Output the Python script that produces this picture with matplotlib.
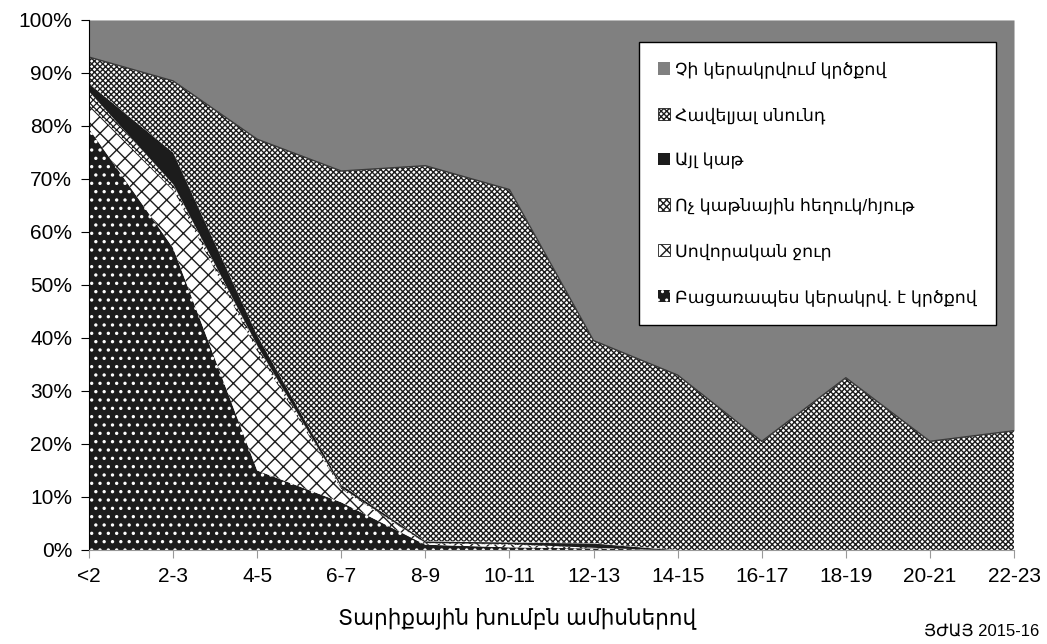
import numpy as np
import matplotlib
matplotlib.use("Agg")
import matplotlib.pyplot as plt
from matplotlib.patches import Patch

plt.rcParams['font.family'] = ['Liberation Sans', 'DejaVu Sans']

groups = ['<2', '2-3', '4-5', '6-7', '8-9', '10-11', '12-13', '14-15',
          '16-17', '18-19', '20-21', '22-23']

# percent of children, bottom layer first
excl = [79.5, 57, 15, 9, 1, 0.5, 0.3, 0, 0, 0, 0, 0]
water = [4.5, 11, 22.5, 2.5, 0.3, 0.5, 0.2, 0, 0, 0, 0, 0]
nonmilk = [2.5, 1, 1, 0.3, 0.1, 0.2, 0, 0, 0, 0, 0, 0]
othermilk = [1.5, 6, 2, 0.5, 0.3, 0.3, 0.8, 0, 0, 0, 0, 0]
compfood = [5, 13.5, 37, 59.2, 70.8, 66.5, 38.2, 33, 20.5, 32.5, 20.5, 22.5]
notbf = [7, 11.5, 22.5, 28.5, 27.5, 32, 60.5, 67, 79.5, 67.5, 79.5, 77.5]

names = ['Բացառապես կերակրվ. է կրծքով', 'Սովորական ջուր',
         'Ոչ կաթնային հեղուկ/հյութ', 'Այլ կաթ', 'Հավելյալ սնունդ',
         'Չի կերակրվում կրծքով']

series = [excl, water, nonmilk, othermilk, compfood, notbf]
# face, hatch colour, hatch, hatch linewidth
styles = [('#1c1c1c', 'white', '..', 1.2),
          ('white', '#1c1c1c', 'xx', 1.0),
          ('white', '#1c1c1c', 'xxxxx', 0.9),
          ('#1c1c1c', '#1c1c1c', None, 1.0),
          ('white', '#1e1e1e', 'xxxxxx', 1.0),
          ('#808080', '#808080', None, 1.0)]

fig = plt.figure(figsize=(10.47, 6.44), dpi=100)
ax = fig.add_axes([0.085, 0.146, 0.8835, 0.823])

x = np.arange(len(groups))
bottom = np.zeros(len(groups))
handles = []
for vals, (fc, hc, h, hlw), nm in zip(series, styles, names):
    top = bottom + np.array(vals)
    with plt.rc_context({'hatch.linewidth': hlw}):
        ax.fill_between(x, bottom, top, facecolor=fc, edgecolor=hc,
                        hatch=h, linewidth=0)
        handles.append(Patch(facecolor=fc, edgecolor=hc, hatch=h,
                             linewidth=0.6 if fc == 'white' else 0,
                             label=nm))
    bottom = top

# outline along the top of the food layer
food_top = np.cumsum(series[:5], axis=0)[-1]
ax.plot(x, food_top, color='#3a3a3a', lw=1)

ax.set_xlim(0, len(groups) - 1)
ax.set_ylim(0, 100)
ax.set_yticks(np.arange(0, 101, 10))
ax.set_yticklabels(['%d%%' % v for v in range(0, 101, 10)])
ax.set_xticks(x)
ax.set_xticklabels(groups)

for s in ['top', 'right']:
    ax.spines[s].set_visible(False)
ax.spines['left'].set_color('black')
ax.spines['bottom'].set_color('#999999')
ax.tick_params(axis='y', direction='out', length=6, color='black',
               labelsize=15, pad=6)
ax.tick_params(axis='x', direction='out', length=6, color='#999999',
               labelsize=15, pad=6)

ax.set_xlabel('Տարիքային խումբն ամիսներով', fontsize=15.5)
ax.xaxis.set_label_coords(0.463, -0.108)

leg = ax.legend(handles[::-1], names[::-1], loc='upper right',
                bbox_to_anchor=(0.99, 0.974), fontsize=12.5,
                frameon=True, fancybox=False, edgecolor='black',
                framealpha=1, handlelength=0.7, handleheight=0.7,
                handletextpad=0.3, labelspacing=1.65, borderpad=1.1)
leg.get_frame().set_linewidth(1)

fig.text(0.993, 0.008, 'ՅԺԱՅ 2015-16', ha='right', va='bottom', fontsize=12)

fig.savefig('out.png', dpi=100)
